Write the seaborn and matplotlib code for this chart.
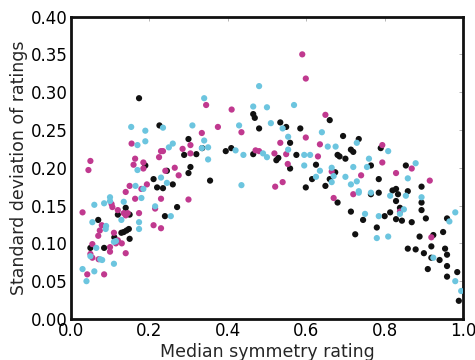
import numpy as np
import pandas as pd
import matplotlib
matplotlib.use("Agg")
import matplotlib.pyplot as plt
import seaborn as sns

# Group 1 (black)
black_x = [0.050, 0.070, 0.085, 0.111, 0.120, 0.129, 0.135, 0.142, 0.148, 0.140, 0.150, 0.150,
           0.174, 0.190, 0.211, 0.220, 0.226, 0.235, 0.240, 0.245, 0.260, 0.271, 0.289, 0.300,
           0.300, 0.305, 0.320, 0.335, 0.355, 0.395, 0.409, 0.465, 0.469, 0.465, 0.480, 0.534,
           0.524, 0.529, 0.549, 0.559, 0.559, 0.575, 0.585, 0.599, 0.615, 0.625, 0.649, 0.660,
           0.660, 0.674, 0.680, 0.685, 0.680, 0.694, 0.700, 0.714, 0.720, 0.714, 0.725, 0.734,
           0.745, 0.765, 0.765, 0.785, 0.785, 0.780, 0.790, 0.800, 0.814, 0.820, 0.829, 0.834,
           0.829, 0.829, 0.839, 0.844, 0.854, 0.859, 0.859, 0.869, 0.879, 0.889, 0.894, 0.894,
           0.894, 0.900, 0.905, 0.910, 0.919, 0.919, 0.924, 0.940, 0.949, 0.954, 0.959, 0.959,
           0.959, 0.959, 0.985, 0.989]
black_y = [0.094, 0.131, 0.094, 0.108, 0.138, 0.114, 0.115, 0.117, 0.119, 0.147, 0.138, 0.106,
           0.292, 0.203, 0.185, 0.174, 0.256, 0.173, 0.136, 0.196, 0.178, 0.148, 0.217, 0.238,
           0.193, 0.201, 0.218, 0.226, 0.183, 0.222, 0.226, 0.271, 0.266, 0.218, 0.252, 0.260,
           0.210, 0.213, 0.254, 0.233, 0.199, 0.217, 0.252, 0.174, 0.185, 0.204, 0.176, 0.185,
           0.263, 0.194, 0.217, 0.215, 0.154, 0.242, 0.212, 0.224, 0.221, 0.142, 0.112, 0.238,
           0.131, 0.203, 0.165, 0.185, 0.167, 0.121, 0.226, 0.136, 0.141, 0.170, 0.172, 0.165,
           0.156, 0.132, 0.147, 0.130, 0.203, 0.169, 0.093, 0.128, 0.092, 0.109, 0.175, 0.154,
           0.144, 0.087, 0.133, 0.066, 0.096, 0.081, 0.111, 0.078, 0.115, 0.093, 0.133, 0.085,
           0.070, 0.056, 0.062, 0.024]

# Group 2 (magenta)
magenta_x = [0.030, 0.042, 0.045, 0.050, 0.050, 0.055, 0.055, 0.070, 0.071, 0.074, 0.079, 0.085,
             0.100, 0.100, 0.104, 0.106, 0.110, 0.115, 0.120, 0.120, 0.130, 0.135, 0.140, 0.145,
             0.140, 0.140, 0.150, 0.155, 0.160, 0.164, 0.164, 0.174, 0.180, 0.185, 0.185, 0.194,
             0.211, 0.215, 0.225, 0.230, 0.230, 0.230, 0.235, 0.241, 0.265, 0.275, 0.285, 0.300,
             0.305, 0.305, 0.334, 0.345, 0.375, 0.410, 0.435, 0.471, 0.480, 0.519, 0.521, 0.534,
             0.540, 0.549, 0.553, 0.590, 0.599, 0.599, 0.630, 0.635, 0.649, 0.665, 0.670, 0.720,
             0.740, 0.794, 0.794, 0.829, 0.839, 0.869, 0.915, 0.919]
magenta_y = [0.141, 0.059, 0.197, 0.209, 0.086, 0.081, 0.099, 0.110, 0.079, 0.117, 0.124, 0.059,
             0.095, 0.089, 0.152, 0.148, 0.114, 0.100, 0.104, 0.144, 0.100, 0.140, 0.137, 0.140,
             0.168, 0.087, 0.176, 0.232, 0.204, 0.212, 0.159, 0.140, 0.172, 0.207, 0.199, 0.178,
             0.124, 0.146, 0.214, 0.159, 0.120, 0.222, 0.222, 0.196, 0.200, 0.190, 0.225, 0.158,
             0.230, 0.219, 0.246, 0.283, 0.254, 0.277, 0.247, 0.223, 0.222, 0.219, 0.175, 0.233,
             0.181, 0.218, 0.205, 0.350, 0.318, 0.240, 0.215, 0.231, 0.270, 0.195, 0.160, 0.165,
             0.190, 0.230, 0.207, 0.193, 0.142, 0.199, 0.183, 0.108]

# Group 3 (cyan)
cyan_x = [0.030, 0.040, 0.050, 0.055, 0.060, 0.060, 0.065, 0.075, 0.080, 0.085, 0.089, 0.090,
          0.100, 0.100, 0.110, 0.110, 0.115, 0.129, 0.135, 0.154, 0.165, 0.170, 0.170, 0.174,
          0.174, 0.180, 0.185, 0.190, 0.190, 0.215, 0.230, 0.235, 0.245, 0.250, 0.255, 0.260,
          0.310, 0.334, 0.340, 0.340, 0.350, 0.350, 0.420, 0.429, 0.435, 0.440, 0.465, 0.480,
          0.490, 0.500, 0.500, 0.510, 0.540, 0.554, 0.554, 0.569, 0.595, 0.595, 0.610, 0.625,
          0.635, 0.640, 0.655, 0.665, 0.665, 0.670, 0.675, 0.700, 0.714, 0.720, 0.729, 0.729,
          0.734, 0.734, 0.750, 0.755, 0.760, 0.765, 0.780, 0.785, 0.809, 0.809, 0.814, 0.839,
          0.849, 0.854, 0.859, 0.879, 0.894, 0.924, 0.965, 0.980, 0.980, 0.995]
cyan_y = [0.066, 0.050, 0.083, 0.128, 0.063, 0.151, 0.094, 0.079, 0.078, 0.153, 0.119, 0.123,
          0.161, 0.156, 0.073, 0.102, 0.103, 0.131, 0.155, 0.254, 0.176, 0.230, 0.197, 0.128,
          0.119, 0.160, 0.172, 0.249, 0.235, 0.149, 0.187, 0.253, 0.180, 0.227, 0.136, 0.232,
          0.256, 0.226, 0.292, 0.236, 0.227, 0.211, 0.223, 0.256, 0.177, 0.217, 0.281, 0.308,
          0.219, 0.280, 0.214, 0.259, 0.252, 0.241, 0.224, 0.283, 0.217, 0.203, 0.217, 0.188,
          0.196, 0.247, 0.228, 0.200, 0.181, 0.189, 0.228, 0.188, 0.178, 0.201, 0.182, 0.233,
          0.169, 0.167, 0.139, 0.201, 0.212, 0.167, 0.107, 0.136, 0.222, 0.109, 0.163, 0.139,
          0.145, 0.163, 0.186, 0.206, 0.161, 0.081, 0.129, 0.141, 0.050, 0.037]

group_names = ["black", "magenta", "cyan"]
palette = {"black": "#111111", "magenta": "#c0398f", "cyan": "#6cc5df"}

df = pd.concat([
    pd.DataFrame({"x": black_x, "y": black_y, "group": "black"}),
    pd.DataFrame({"x": magenta_x, "y": magenta_y, "group": "magenta"}),
    pd.DataFrame({"x": cyan_x, "y": cyan_y, "group": "cyan"}),
], ignore_index=True)

sns.set_style("white")
plt.rcParams["font.family"] = ["DejaVu Sans"]

fig = plt.figure(figsize=(4.75, 3.6), dpi=100)
ax = fig.add_axes([0.149, 0.114, 0.826, 0.840])

sns.scatterplot(data=df, x="x", y="y", hue="group", hue_order=group_names,
                palette=palette, s=20, linewidth=0, legend=False, ax=ax, zorder=3)

ax.set_xlim(0, 1.0)
ax.set_ylim(0, 0.40)
ax.set_xticks(np.arange(0, 1.01, 0.2))
ax.set_yticks(np.arange(0, 0.401, 0.05))
ax.set_xticklabels([f"{v:.1f}" for v in np.arange(0, 1.01, 0.2)])
ax.set_yticklabels([f"{v:.2f}" for v in np.arange(0, 0.401, 0.05)])
ax.tick_params(axis="both", direction="in", length=3, width=0.5, colors="#999999",
               labelcolor="black", labelsize=12, pad=2, top=True, right=True)
for sp in ax.spines.values():
    sp.set_linewidth(2)
    sp.set_color("#111111")

ax.set_xlabel("Median symmetry rating", fontsize=12.5, labelpad=2)
ax.set_ylabel("Standard deviation of ratings", fontsize=12.5, labelpad=2)

fig.savefig("out.png", dpi=100)
